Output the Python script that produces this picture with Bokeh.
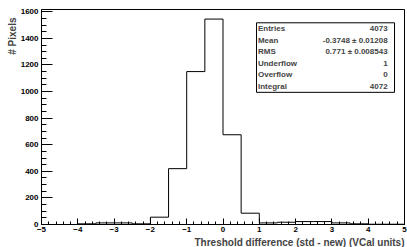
from bokeh.plotting import figure
from bokeh.models import Range1d, SingleIntervalTicker, Title, BoxAnnotation, Label
from bokeh.embed import file_html
from bokeh.resources import INLINE

# histogram data (bin edges and counts)
bin_edges = [-5.0, -4.5, -4.0, -3.5, -3.0, -2.5, -2.0, -1.5, -1.0, -0.5, 0.0,
             0.5, 1.0, 1.5, 2.0, 2.5, 3.0, 3.5, 4.0, 4.5, 5.0]
counts = [0, 0, 5, 12, 12, 5, 55, 420, 1150, 1545, 675,
          85, 12, 17, 22, 22, 12, 5, 2, 2]

stat_names = ["Entries", "Mean", "RMS", "Underflow", "Overflow", "Integral"]
stat_values = ["4073", "-0.3748 \u00b1 0.01208", "0.771 \u00b1 0.008543", "1", "0", "4072"]

x_title = "Threshold difference (std - new) (VCal units)"
y_title = "# Pixels"

FONT = "Liberation Sans"

p = figure(width=407, height=247, x_range=Range1d(-5, 5), y_range=Range1d(0, 1617),
           output_backend="svg", toolbar_location=None,
           min_border_left=41, min_border_right=3, min_border_top=9, min_border_bottom=22)
p.xgrid.visible = False
p.ygrid.visible = False
p.outline_line_color = "black"
p.outline_line_width = 1
p.background_fill_color = "white"
p.border_fill_color = "white"

for ax in (p.xaxis[0], p.yaxis[0]):
    ax.major_tick_out = 0
    ax.minor_tick_out = 0
    ax.major_label_text_font = FONT
    ax.major_label_text_font_style = "bold"
    ax.major_label_text_font_size = "8px"
    ax.major_label_text_color = "black"
    ax.axis_line_color = "black"
    ax.major_tick_line_color = "black"
    ax.minor_tick_line_color = "black"

p.xaxis[0].ticker = SingleIntervalTicker(interval=1, num_minor_ticks=5)
p.xaxis[0].major_tick_in = 6
p.xaxis[0].minor_tick_in = 3
p.xaxis[0].major_label_standoff = 2

p.yaxis[0].ticker = SingleIntervalTicker(interval=200, num_minor_ticks=4)
p.yaxis[0].major_tick_in = 11
p.yaxis[0].minor_tick_in = 5
p.yaxis[0].major_label_standoff = 3

p.add_layout(Title(text=x_title, align="right", text_font=FONT, text_font_style="bold",
                   text_font_size="10px", standoff=0, offset=0), "below")
p.add_layout(Title(text=y_title, align="right", text_font=FONT, text_font_style="bold",
                   text_font_size="10px", standoff=0, offset=8), "left")

# histogram outline
p.step(x=bin_edges, y=counts + [counts[-1]], mode="after", line_color="black", line_width=1)

# statistics box
box_left, box_right, box_top, box_bottom = 0.923, 4.725, 1517, 994
p.add_layout(BoxAnnotation(left=box_left, right=box_right, top=box_top, bottom=box_bottom,
                           fill_color="white", fill_alpha=1, line_color="black",
                           line_width=1, line_alpha=1))
row_h = (box_top - box_bottom) / len(stat_names)
for i, (n, v) in enumerate(zip(stat_names, stat_values)):
    yc = box_top - (i + 0.5) * row_h
    p.add_layout(Label(x=box_left + 0.04, y=yc, text=n, text_font=FONT, text_font_style="bold",
                       text_font_size="8px", text_align="left", text_baseline="middle"))
    p.add_layout(Label(x=box_right - 0.19, y=yc, text=v, text_font=FONT, text_font_style="bold",
                       text_font_size="8px", text_align="right", text_baseline="middle"))

open("out.html", "w").write(file_html(p, INLINE))
